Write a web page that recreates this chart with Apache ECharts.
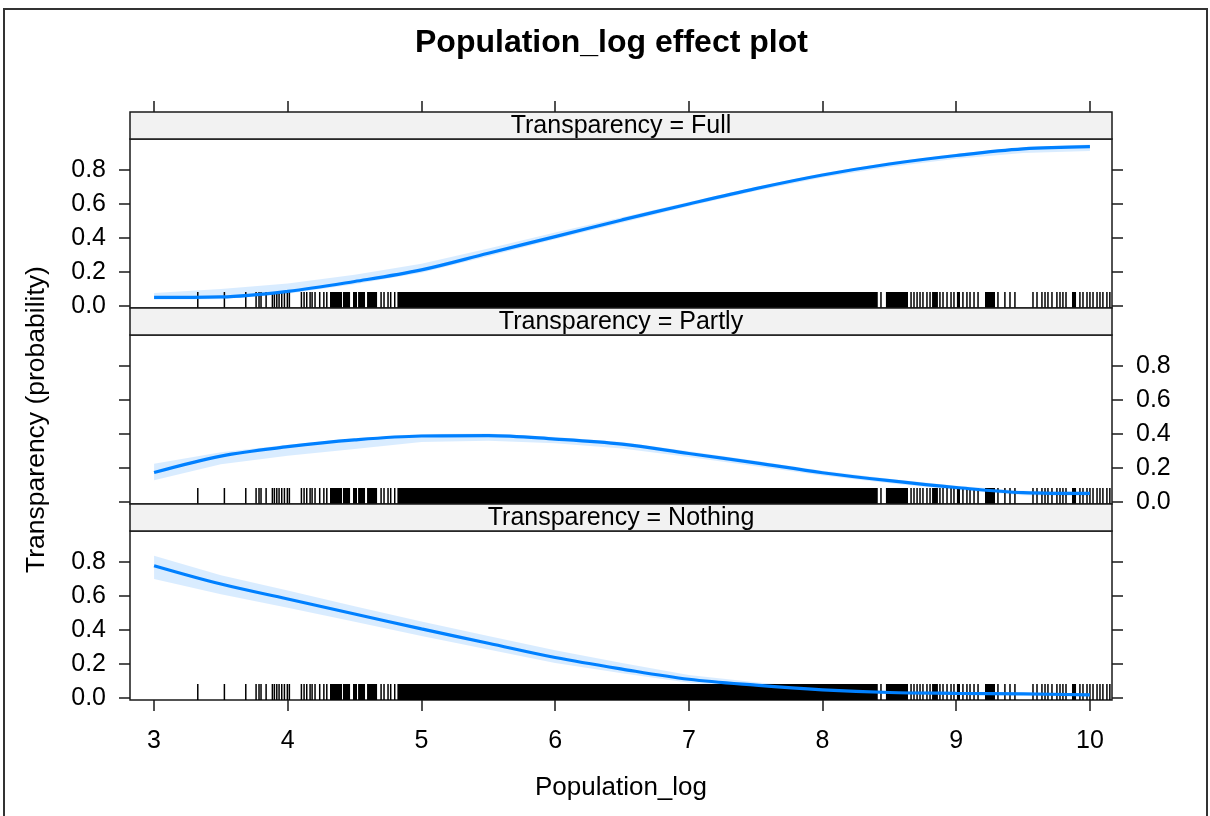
<!DOCTYPE html>
<html>
<head>
<meta charset="utf-8">
<script src="https://cdn.jsdelivr.net/npm/echarts@6/dist/echarts.min.js"></script>
<style>
html,body{margin:0;padding:0;background:#fff;}
#chart{width:1210px;height:816px;}
</style>
</head>
<body>
<div id="chart"></div>
<script>
// ---------------- data ----------------
const xs = [3, 3.5, 4, 4.5, 5, 5.5, 6, 6.5, 7, 7.5, 8, 8.5, 9, 9.5, 10];

const fullFit   = [0.050, 0.053, 0.086, 0.144, 0.212, 0.310, 0.408, 0.506, 0.600, 0.690, 0.770, 0.835, 0.885, 0.924, 0.937];
const fullLower = [0.036, 0.040, 0.072, 0.128, 0.195, 0.292, 0.392, 0.490, 0.586, 0.676, 0.755, 0.818, 0.866, 0.900, 0.912];
const fullUpper = [0.076, 0.100, 0.132, 0.183, 0.248, 0.338, 0.432, 0.522, 0.612, 0.700, 0.780, 0.845, 0.895, 0.934, 0.950];

const partlyFit   = [0.173, 0.270, 0.325, 0.365, 0.388, 0.390, 0.370, 0.340, 0.285, 0.230, 0.172, 0.125, 0.085, 0.055, 0.050];
const partlyLower = [0.128, 0.222, 0.272, 0.312, 0.352, 0.360, 0.345, 0.315, 0.265, 0.210, 0.155, 0.110, 0.070, 0.040, 0.034];
const partlyUpper = [0.225, 0.292, 0.336, 0.374, 0.400, 0.402, 0.382, 0.352, 0.298, 0.242, 0.183, 0.136, 0.096, 0.066, 0.060];

const nothingFit   = [0.778, 0.670, 0.582, 0.494, 0.406, 0.322, 0.238, 0.170, 0.110, 0.075, 0.048, 0.032, 0.027, 0.024, 0.018];
const nothingLower = [0.700, 0.610, 0.530, 0.448, 0.364, 0.285, 0.205, 0.145, 0.090, 0.060, 0.038, 0.024, 0.020, 0.016, 0.011];
const nothingUpper = [0.836, 0.722, 0.632, 0.540, 0.450, 0.365, 0.280, 0.205, 0.135, 0.092, 0.060, 0.042, 0.035, 0.032, 0.028];

// rug: single observations and densely packed runs of observations
const rugTicks = [3.327, 3.526, 3.686, 3.763, 3.785, 3.800, 3.838, 3.885, 3.900, 3.918, 3.935, 3.955,
  3.975, 3.997, 4.012, 4.102, 4.122, 4.142, 4.167, 4.182, 4.204, 4.239, 4.270, 4.292,
  4.698, 4.720, 4.750, 4.770, 4.800,
  8.437, 8.662, 8.684, 8.707, 8.729, 8.751, 8.781, 8.804, 8.878, 8.901, 8.931, 8.961, 8.983,
  9.050, 9.080, 9.103, 9.133, 9.163, 9.312, 9.364, 9.402, 9.439, 9.574, 9.604, 9.641, 9.664,
  9.686, 9.716, 9.753, 9.776, 9.798, 9.821, 9.925, 9.948, 9.978, 10.000, 10.023, 10.053,
  10.075, 10.097, 10.127, 10.149];
const rugRuns = [[4.316, 4.406], [4.413, 4.466], [4.488, 4.518], [4.526, 4.578], [4.593, 4.668],
  [4.820, 8.413], [8.474, 8.639], [8.819, 8.863], [9.005, 9.028], [9.215, 9.290], [9.866, 9.896]];

const xTickValues = [3, 4, 5, 6, 7, 8, 9, 10];
const yTickValues = [0, 0.2, 0.4, 0.6, 0.8];
const panelNames = ['Transparency = Full', 'Transparency = Partly', 'Transparency = Nothing'];

// ---------------- layout ----------------
const FONT = '"Liberation Sans", Arial, sans-serif';
const X_MIN = 2.82, X_MAX = 10.165;
const Y_MIN = -0.012, Y_MAX = 0.982;
const LEFT = 130, RIGHT_EDGE = 1112, W = 1210;
const STRIP_H = 27, PANEL_H = 169;
const STRIP_TOPS = [112, 308, 504];
const PANEL_TOPS = STRIP_TOPS.map(t => t + STRIP_H);
const RUG_PX = 16;
const TICK_LEN = 11;
const LINE_COLOR = '#0080ff';
const BAND_COLOR = 'rgba(0,128,255,0.15)';
const AXIS_COLOR = '#1a1a1a';

const panels = [
  {fit: fullFit, lo: fullLower, hi: fullUpper, labelSide: 'left'},
  {fit: partlyFit, lo: partlyLower, hi: partlyUpper, labelSide: 'right'},
  {fit: nothingFit, lo: nothingLower, hi: nothingUpper, labelSide: 'left'}
];

const grid = PANEL_TOPS.map(t => ({
  left: LEFT, right: W - RIGHT_EDGE, top: t, height: PANEL_H,
  show: true, borderColor: AXIS_COLOR, borderWidth: 1.5, backgroundColor: '#fff'
}));

const tickLine = {color: AXIS_COLOR, width: 1.5};
const labelStyle = {color: '#000', fontSize: 25, fontFamily: FONT};
const hiddenLine = {show: false, onZero: false};

const xAxis = [0, 1, 2].map(i => {
  const base = {type: 'value', gridIndex: i, min: X_MIN, max: X_MAX,
    splitLine: {show: false}, axisLine: hiddenLine};
  if (i === 0) {
    // top ticks sit above the strip: long ticks, the strip covers their lower part
    return Object.assign(base, {position: 'top',
      axisTick: {show: true, inside: false, length: TICK_LEN + STRIP_H, customValues: xTickValues, lineStyle: tickLine},
      axisLabel: {show: false}});
  }
  if (i === 2) {
    return Object.assign(base, {position: 'bottom',
      axisTick: {show: true, inside: false, length: TICK_LEN, customValues: xTickValues, lineStyle: tickLine},
      axisLabel: Object.assign({customValues: xTickValues, margin: 29, formatter: v => String(v)}, labelStyle),
      name: 'Population_log', nameLocation: 'middle', nameGap: 75,
      nameTextStyle: {color: '#000', fontSize: 26, fontFamily: FONT}});
  }
  return Object.assign(base, {show: false});
});

const yAxis = [];
panels.forEach((p, i) => {
  ['left', 'right'].forEach(side => {
    const withLabel = side === p.labelSide;
    const ax = {type: 'value', gridIndex: i, position: side, min: Y_MIN, max: Y_MAX,
      splitLine: {show: false}, axisLine: hiddenLine,
      axisTick: {show: true, inside: false, length: TICK_LEN, customValues: yTickValues, lineStyle: tickLine},
      axisLabel: withLabel
        ? Object.assign({customValues: yTickValues, margin: 24, formatter: v => v.toFixed(1)}, labelStyle)
        : {show: false}};
    if (i === 1 && side === 'left') {
      Object.assign(ax, {name: 'Transparency (probability)', nameLocation: 'middle', nameGap: 80,
        nameTextStyle: {color: '#000', fontSize: 26.5, fontFamily: FONT}});
    }
    yAxis.push(ax);
  });
});

const series = [];
panels.forEach((p, i) => {
  const yi = i * 2;
  // confidence band
  series.push({
    type: 'custom', xAxisIndex: i, yAxisIndex: yi, z: 1, silent: true, clip: true,
    data: [[xs[0], p.lo[0]]],
    renderItem: (params, api) => {
      const pts = [];
      for (let k = 0; k < xs.length; k++) pts.push(api.coord([xs[k], p.hi[k]]));
      for (let k = xs.length - 1; k >= 0; k--) pts.push(api.coord([xs[k], p.lo[k]]));
      return {type: 'polygon', shape: {points: pts}, style: {fill: BAND_COLOR}};
    }
  });
  // rug runs
  series.push({
    type: 'custom', xAxisIndex: i, yAxisIndex: yi, z: 2, silent: true, clip: true,
    data: rugRuns,
    encode: {x: [0, 1]},
    renderItem: (params, api) => {
      const a = api.coord([api.value(0), Y_MIN]);
      const b = api.coord([api.value(1), Y_MIN]);
      return {type: 'rect', shape: {x: a[0], y: a[1] - RUG_PX, width: b[0] - a[0], height: RUG_PX},
        style: {fill: '#000'}};
    }
  });
  // rug ticks
  series.push({
    type: 'custom', xAxisIndex: i, yAxisIndex: yi, z: 2, silent: true, clip: true,
    data: rugTicks.map(v => [v]),
    encode: {x: 0},
    renderItem: (params, api) => {
      const a = api.coord([api.value(0), Y_MIN]);
      return {type: 'line', shape: {x1: a[0], y1: a[1], x2: a[0], y2: a[1] - RUG_PX},
        style: {stroke: '#000', lineWidth: 1.5}};
    }
  });
  // fitted curve
  series.push({
    type: 'line', xAxisIndex: i, yAxisIndex: yi, z: 3, silent: true,
    data: xs.map((x, k) => [x, p.fit[k]]),
    smooth: 0.35, symbol: 'none',
    lineStyle: {color: LINE_COLOR, width: 3.2}
  });
});

const graphic = [
  {type: 'rect', silent: true, z: 0, shape: {x: 4, y: 9, width: 1203, height: 900},
    style: {fill: null, stroke: '#333', lineWidth: 2}}
];
STRIP_TOPS.forEach((t, i) => {
  graphic.push({type: 'rect', silent: true, z: 10,
    shape: {x: LEFT, y: t, width: RIGHT_EDGE - LEFT, height: STRIP_H},
    style: {fill: '#f2f2f2', stroke: AXIS_COLOR, lineWidth: 1.5}});
  graphic.push({type: 'text', silent: true, z: 11,
    x: (LEFT + RIGHT_EDGE) / 2, y: t + STRIP_H / 2 + 1,
    style: {text: panelNames[i], fill: '#000', font: '25px ' + FONT, align: 'center', verticalAlign: 'middle'}});
});

const chart = echarts.init(document.getElementById('chart'), null, {renderer: 'canvas'});
chart.setOption({
  animation: false,
  backgroundColor: '#fff',
  title: {text: 'Population_log effect plot', left: 410, top: 22,
    textStyle: {fontSize: 32, fontWeight: 'bold', color: '#000', fontFamily: FONT}},
  grid, xAxis, yAxis, series, graphic
});
</script>
</body>
</html>
